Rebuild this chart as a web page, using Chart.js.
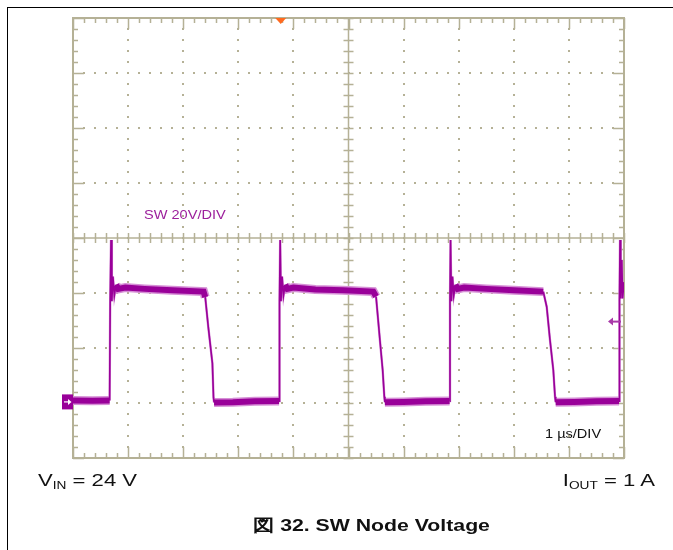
<!DOCTYPE html>
<html>
<head>
<meta charset="utf-8">
<script src="https://cdn.jsdelivr.net/npm/chart.js@4.4.0/dist/chart.umd.min.js"></script>
<style>
  html, body { margin: 0; padding: 0; background: #fff; }
  #wrap { position: relative; width: 673px; height: 550px; overflow: hidden; font-family: "Liberation Sans", Arial, sans-serif; }
  #frame { position: absolute; left: 7px; top: 7px; width: 700px; height: 600px; border-left: 1.5px solid #000; border-top: 1.5px solid #000; }
  #scope { position: absolute; left: 0; top: 0; }
  .lbl { position: absolute; white-space: nowrap; line-height: 1; }
  .lbl sub { font-size: 0.62em; vertical-align: -0.25em; line-height: 0; }
</style>
</head>
<body>
<div id="wrap">
  <div id="frame"></div>
  <canvas id="scope" width="673" height="550"></canvas>
  <div class="lbl" id="chLabel" style="left:144px; top:208px; font-size:13px; color:#9c1f9c; transform:scaleX(1.12); transform-origin:left;">SW 20V/DIV</div>
  <div class="lbl" id="tbLabel" style="left:545px; top:427px; font-size:13px; color:#111; transform:scaleX(1.12); transform-origin:left;">1 µs/DIV</div>
  <div class="lbl" style="left:38px; top:472px; font-size:17px; color:#111; transform:scaleX(1.3); transform-origin:left;">V<sub>IN</sub> = 24 V</div>
  <div class="lbl" style="right:18px; top:472px; font-size:17px; color:#111; transform:scaleX(1.3); transform-origin:right;">I<sub>OUT</sub> = 1 A</div>
  <div class="lbl" style="left:253px; top:517px; font-size:17px; font-weight:bold; color:#111; transform:scaleX(1.25); transform-origin:left;">図 32. SW Node Voltage</div>
</div>
<script>
// scope settings: 1 us/div horizontally, 20 V/div vertically
const timeRange = [0, 10];      // us
const voltRange = [-20, 140];   // V
const timePerDiv = 1;
const voltPerDiv = 20;
const groundLevel = 0.4;        // V, channel marker on the left
const triggerLevel = 29.6;      // V, arrow on the right
const triggerTime = 3.77;       // us, orange marker on top

// SW node trace
const timeUs = [
  0, 0.35, 0.665,
  0.675, 0.69, 0.705, 0.725, 0.75, 0.78, 0.82, 0.95, 1.3, 1.8, 2.37,
  2.40, 2.455, 2.53, 2.55, 2.56, 2.9, 3.3, 3.74,
  3.748, 3.76, 3.775, 3.795, 3.82, 3.85, 3.89, 4.0, 4.4, 4.9, 5.45,
  5.50, 5.57, 5.62, 5.65, 5.66, 6.0, 6.4, 6.835,
  6.842, 6.852, 6.867, 6.887, 6.91, 6.94, 6.98, 7.1, 7.5, 8.0, 8.535,
  8.597, 8.657, 8.717, 8.748, 8.76, 9.1, 9.5, 9.91,
  9.918, 9.928, 9.94, 9.96, 9.975, 10
];
const swVolts = [
  0.9, 0.8, 0.9,
  37, 59.3, 37, 46, 39, 43, 41.5, 42, 41.5, 41, 40.5,
  38.5, 27.7, 14.4, 2, 0.2, 0.3, 0.6, 0.7,
  37, 59.3, 37, 46, 39, 43, 41.5, 42, 41.3, 41, 40.5,
  38.7, 22.9, 12, 2.3, 0.3, 0.4, 0.6, 0.7,
  37, 59.3, 37, 46, 39, 43, 41.5, 42, 41.5, 41, 40.5,
  35, 22.9, 12, 2.3, 0.3, 0.4, 0.6, 0.7,
  37, 59.3, 38, 52, 38, 44
];

const gridColor = '#b5b196';
const traceColor = '#990099';

const points = timeUs.map((t, i) => ({ x: t, y: swVolts[i] }));

// flat parts of the trace are thick (switching noise), edges are thin
function bandWidth(wide, thin) {
  return c => {
    const dv = Math.abs(c.p1.parsed.y - c.p0.parsed.y);
    const dt = c.p1.parsed.x - c.p0.parsed.x;
    return (dv < 2.2 && dt > 0.02) ? wide : thin;
  };
}

const graticule = {
  id: 'graticule',
  beforeDatasetsDraw(chart) {
    const { ctx, chartArea: a, scales: { x, y } } = chart;
    const xMinor = timePerDiv / 5, yMinor = voltPerDiv / 5;
    const xMid = (timeRange[0] + timeRange[1]) / 2;
    const yMid = (voltRange[0] + voltRange[1]) / 2;
    const cx = x.getPixelForValue(xMid), cy = y.getPixelForValue(yMid);
    ctx.save();
    ctx.fillStyle = gridColor;
    ctx.strokeStyle = gridColor;

    // dotted division lines
    for (let t = timeRange[0] + timePerDiv; t < timeRange[1]; t += timePerDiv) {
      if (Math.abs(t - xMid) < 1e-6) continue;
      const px = Math.round(x.getPixelForValue(t));
      for (let v = voltRange[0] + yMinor; v < voltRange[1] - 1e-6; v += yMinor) {
        ctx.fillRect(px - 1, Math.round(y.getPixelForValue(v)) - 1, 2, 2);
      }
    }
    for (let v = voltRange[0] + voltPerDiv; v < voltRange[1]; v += voltPerDiv) {
      if (Math.abs(v - yMid) < 1e-6) continue;
      const py = Math.round(y.getPixelForValue(v));
      for (let t = timeRange[0] + xMinor; t < timeRange[1] - 1e-6; t += xMinor) {
        ctx.fillRect(Math.round(x.getPixelForValue(t)) - 1, py - 1, 2, 2);
      }
    }

    // centre cross
    ctx.lineWidth = 1.5;
    ctx.beginPath();
    ctx.moveTo(a.left, cy); ctx.lineTo(a.right, cy);
    ctx.moveTo(cx, a.top); ctx.lineTo(cx, a.bottom);
    ctx.stroke();

    // ticks on border and centre cross
    ctx.beginPath();
    let i = 0;
    for (let t = timeRange[0]; t <= timeRange[1] + 1e-6; t += xMinor, i++) {
      const px = Math.round(x.getPixelForValue(t)) + 0.5;
      const len = (i % 5 === 0) ? 11 : 5;
      ctx.moveTo(px, a.top); ctx.lineTo(px, a.top + len);
      ctx.moveTo(px, a.bottom); ctx.lineTo(px, a.bottom - len);
      ctx.moveTo(px, cy - 5); ctx.lineTo(px, cy + 5);
    }
    i = 0;
    for (let v = voltRange[0]; v <= voltRange[1] + 1e-6; v += yMinor, i++) {
      const py = Math.round(y.getPixelForValue(v)) + 0.5;
      const len = (i % 5 === 0) ? 11 : 5;
      ctx.moveTo(a.left, py); ctx.lineTo(a.left + len, py);
      ctx.moveTo(a.right, py); ctx.lineTo(a.right - len, py);
      ctx.moveTo(cx - 5, py); ctx.lineTo(cx + 5, py);
    }
    ctx.stroke();

    // outer border
    ctx.lineWidth = 2;
    ctx.strokeRect(a.left, a.top, a.right - a.left, a.bottom - a.top);
    ctx.restore();
  },
  afterDatasetsDraw(chart) {
    const { ctx, chartArea: a, scales: { x, y } } = chart;
    ctx.save();
    // channel ground marker
    const gy = y.getPixelForValue(groundLevel);
    ctx.fillStyle = traceColor;
    ctx.fillRect(a.left - 11, gy - 7.5, 11, 15);
    ctx.strokeStyle = '#fff';
    ctx.fillStyle = '#fff';
    ctx.lineWidth = 1.2;
    ctx.beginPath();
    ctx.moveTo(a.left - 9, gy); ctx.lineTo(a.left - 3, gy);
    ctx.stroke();
    ctx.beginPath();
    ctx.moveTo(a.left - 1.5, gy); ctx.lineTo(a.left - 5, gy - 3); ctx.lineTo(a.left - 5, gy + 3);
    ctx.fill();

    // trigger level arrow
    const ty = y.getPixelForValue(triggerLevel);
    ctx.strokeStyle = '#a83aa8';
    ctx.fillStyle = '#a83aa8';
    ctx.lineWidth = 2;
    ctx.beginPath();
    ctx.moveTo(a.right - 14, ty); ctx.lineTo(a.right - 3, ty);
    ctx.stroke();
    ctx.beginPath();
    ctx.moveTo(a.right - 16, ty); ctx.lineTo(a.right - 11, ty - 4); ctx.lineTo(a.right - 11, ty + 4);
    ctx.fill();

    // trigger position marker
    const tx = x.getPixelForValue(triggerTime);
    ctx.fillStyle = '#ff6a1f';
    ctx.beginPath();
    ctx.moveTo(tx - 5.5, a.top); ctx.lineTo(tx + 5.5, a.top); ctx.lineTo(tx, a.top + 6);
    ctx.fill();
    ctx.restore();
  }
};

new Chart(document.getElementById('scope'), {
  type: 'line',
  data: {
    datasets: [
      {
        label: 'SW',
        data: points,
        borderColor: traceColor,
        pointRadius: 0,
        tension: 0,
        segment: { borderWidth: bandWidth(6, 1.6) }
      },
      {
        label: 'SW halo',
        data: points,
        borderColor: '#d68fd6',
        pointRadius: 0,
        tension: 0,
        segment: { borderWidth: bandWidth(9, 2.4) }
      }
    ]
  },
  options: {
    responsive: false,
    animation: false,
    events: [],
    layout: { padding: { left: 73, top: 18, right: 49, bottom: 92 } },
    plugins: { legend: { display: false }, tooltip: { enabled: false } },
    scales: {
      x: { type: 'linear', min: timeRange[0], max: timeRange[1], display: false },
      y: { type: 'linear', min: voltRange[0], max: voltRange[1], display: false }
    }
  },
  plugins: [graticule]
});
</script>
</body>
</html>
